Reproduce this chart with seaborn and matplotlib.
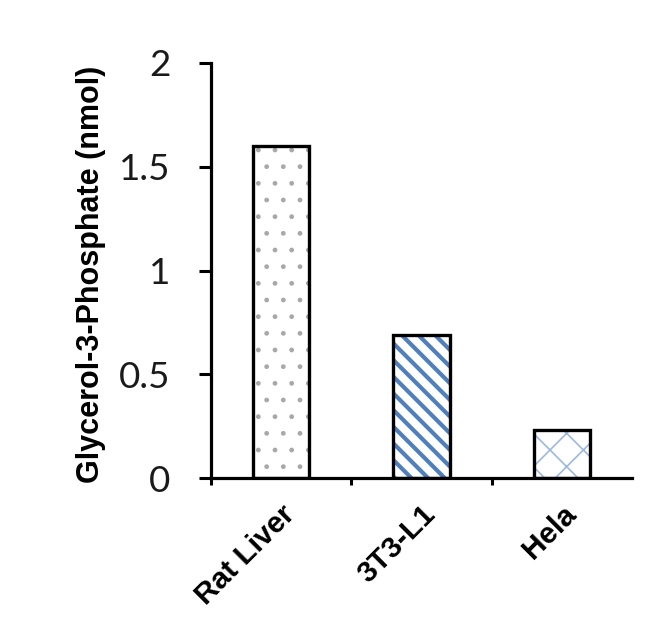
import matplotlib
matplotlib.use("Agg")
import matplotlib.pyplot as plt
import seaborn as sns
import pandas as pd

# ---- data ----
categories = ["Rat Liver", "3T3-L1", "Hela"]
values = [1.60, 0.69, 0.23]
y_ticks = [0, 0.5, 1, 1.5, 2]
y_tick_labels = ["0", "0.5", "1", "1.5", "2"]
y_label = "Glycerol-3-Phosphate (nmol)"

hatches = [".", "\\\\", "x"]
hatch_colors = ["#a8a8a8", "#5080bc", "#9db8de"]
hatch_widths = [1.0, 3.0, 1.2]

sns.set_style("white")
df = pd.DataFrame({"cat": categories, "val": values})

fig = plt.figure(figsize=(6.5, 6.18), dpi=100)
ax = fig.add_axes([211 / 650, 1 - 478 / 618, 421 / 650, 415 / 618])

# hatched fill
sns.barplot(data=df, x="cat", y="val", order=categories, color="white",
            width=0.4, linewidth=0, ax=ax, errorbar=None)
for p, h, c, w in zip(ax.patches, hatches, hatch_colors, hatch_widths):
    p.set_facecolor("white")
    p.set_hatch(h)
    p.set_edgecolor(c)
    p.set_linewidth(0)
    if hasattr(p, "set_hatch_linewidth"):
        p.set_hatch_linewidth(w)
n_fill = len(ax.patches)

# black outlines
sns.barplot(data=df, x="cat", y="val", order=categories, color="black",
            width=0.4, fill=False, linewidth=2.4, ax=ax, errorbar=None)
for p in ax.patches[n_fill:]:
    p.set_facecolor("none")
    p.set_edgecolor("black")
    p.set_linewidth(2.4)

ax.set_xlim(-0.5, 2.5)
ax.set_ylim(0, 2)

for s in ["top", "right"]:
    ax.spines[s].set_visible(False)
for s in ["left", "bottom"]:
    ax.spines[s].set_color("black")
    ax.spines[s].set_linewidth(2.3)

ax.set_yticks(y_ticks)
ax.set_yticklabels(y_tick_labels, fontfamily="Lato", fontsize=26.5, color="#1a1a1a")
ax.tick_params(axis="y", left=True, direction="out", length=9, width=2.2,
               pad=20, color="black")

ax.set_xticks(range(len(categories)))
ax.set_xticklabels(categories, rotation=45, ha="right", va="top",
                   rotation_mode="anchor", fontfamily="Liberation Sans",
                   fontweight="bold", fontsize=21.5, color="black")
ax.tick_params(axis="x", which="major", bottom=True, length=0, pad=16)
ax.set_xticks([-0.5, 0.5, 1.5], minor=True)
ax.tick_params(axis="x", which="minor", bottom=True, direction="out",
               length=5, width=2.2, color="black")

ax.set_xlabel("")
ax.set_ylabel(y_label, fontfamily="Liberation Sans", fontweight="bold",
              fontsize=22, va="center", color="black")
ax.yaxis.set_label_coords((91 - 211) / 421, (478 - 274) / 415)

fig.savefig("out.png", dpi=100, facecolor="white")
